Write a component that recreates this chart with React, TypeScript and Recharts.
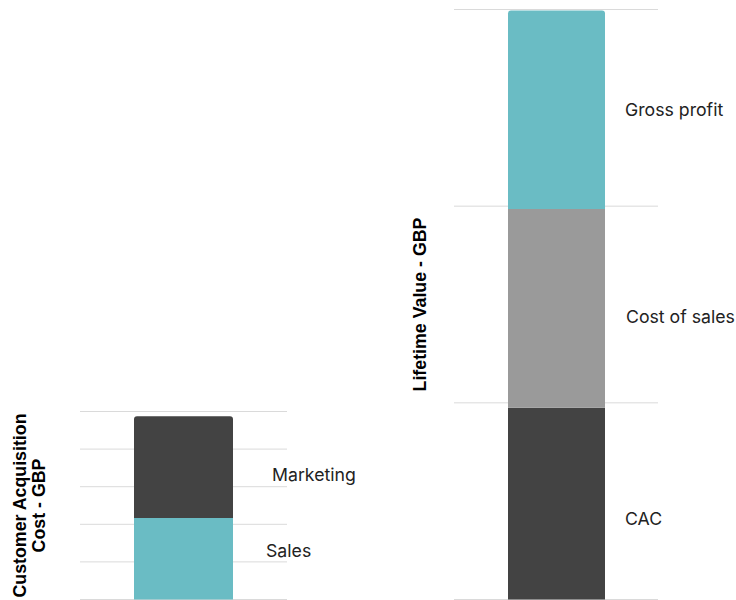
import React from 'react';
import { BarChart, Bar, XAxis, YAxis, CartesianGrid, LabelList, Label } from 'recharts';

const cacCategories = ['CAC'];
const salesValues = [434];
const marketingValues = [541];
const cacTicks = [0, 200, 400, 600, 800, 1000];

const ltvCategories = ['LTV'];
const ltvCacValues = [975];
const costOfSalesValues = [1010];
const grossProfitValues = [1010];
const ltvTicks = [0, 1000, 2000, 3000];

const cacData = cacCategories.map((name, i) => ({ name, Sales: salesValues[i], Marketing: marketingValues[i] }));
const ltvData = ltvCategories.map((name, i) => ({
  name,
  CAC: ltvCacValues[i],
  'Cost of sales': costOfSalesValues[i],
  'Gross profit': grossProfitValues[i],
}));

const TEAL = '#6abcc4';
const DARK = '#434343';
const GRAY = '#9a9a9a';
const GRID = '#dadada';

const labelFont = 'Inter, "Noto Sans", sans-serif';
const titleFont = '"Liberation Sans", Arial, sans-serif';

const makeSeriesLabel = (text: string, dx: number, dy: number) => (props: any) => {
  const { x, y, width, height } = props;
  return (
    <text
      x={Number(x) + Number(width) + dx}
      y={Number(y) + Number(height) / 2 + dy}
      dominantBaseline="central"
      fontFamily={labelFont}
      fontSize={17.7}
      fill="#222"
    >
      {text}
    </text>
  );
};

const makeTitle = (lines: string[], baseX: number, lineGap: number) => (props: any) => {
  const vb = props.viewBox || {};
  const cy = vb.y + vb.height / 2;
  return (
    <text
      transform={`translate(${baseX}, ${cy}) rotate(-90)`}
      textAnchor="middle"
      fontFamily={titleFont}
      fontWeight="bold"
      fontSize={17.8}
      fill="#000"
    >
      {lines.map((l, i) => (
        <tspan key={i} x={0} y={i * lineGap}>
          {l}
        </tspan>
      ))}
    </text>
  );
};

const blank = () => '';

export default function App() {
  return (
    <div style={{ position: 'absolute', left: 0, top: 0, width: 736, height: 600, background: '#fff', overflow: 'hidden' }}>
      <div style={{ position: 'absolute', left: 0, top: 0 }}>
        <BarChart width={400} height={600} data={cacData} margin={{ top: 411.5, right: 113, bottom: 0.5, left: 0 }}>
          <CartesianGrid vertical={false} stroke={GRID} />
          <XAxis dataKey="name" hide />
          <YAxis
            domain={[0, 1000]}
            ticks={cacTicks}
            interval={0}
            tickFormatter={blank}
            axisLine={false}
            tickLine={false}
            width={80}
          >
            <Label content={makeTitle(['Customer Acquisition', 'Cost - GBP'], 26, 19)} />
          </YAxis>
          <Bar dataKey="Sales" stackId="a" fill={TEAL} barSize={99} isAnimationActive={false}>
            <LabelList content={makeSeriesLabel('Sales', 33, -8)} />
          </Bar>
          <Bar dataKey="Marketing" stackId="a" fill={DARK} barSize={99} radius={[3, 3, 0, 0]} isAnimationActive={false}>
            <LabelList content={makeSeriesLabel('Marketing', 39, 7)} />
          </Bar>
        </BarChart>
      </div>
      <div style={{ position: 'absolute', left: 400, top: 0 }}>
        <BarChart width={336} height={600} data={ltvData} margin={{ top: 9.5, right: 78, bottom: 0.5, left: 0 }}>
          <CartesianGrid vertical={false} stroke={GRID} />
          <XAxis dataKey="name" hide />
          <YAxis
            domain={[0, 3000]}
            ticks={ltvTicks}
            interval={0}
            tickFormatter={blank}
            axisLine={false}
            tickLine={false}
            width={54}
          >
            <Label content={makeTitle(['Lifetime Value - GBP'], 25.5, 19)} />
          </YAxis>
          <Bar dataKey="CAC" stackId="b" fill={DARK} barSize={97} isAnimationActive={false}>
            <LabelList content={makeSeriesLabel('CAC', 20, 15)} />
          </Bar>
          <Bar dataKey="Cost of sales" stackId="b" fill={GRAY} barSize={97} isAnimationActive={false}>
            <LabelList content={makeSeriesLabel('Cost of sales', 21, 8)} />
          </Bar>
          <Bar dataKey="Gross profit" stackId="b" fill={TEAL} barSize={97} radius={[3, 3, 0, 0]} isAnimationActive={false}>
            <LabelList content={makeSeriesLabel('Gross profit', 20, 0)} />
          </Bar>
        </BarChart>
      </div>
    </div>
  );
}
